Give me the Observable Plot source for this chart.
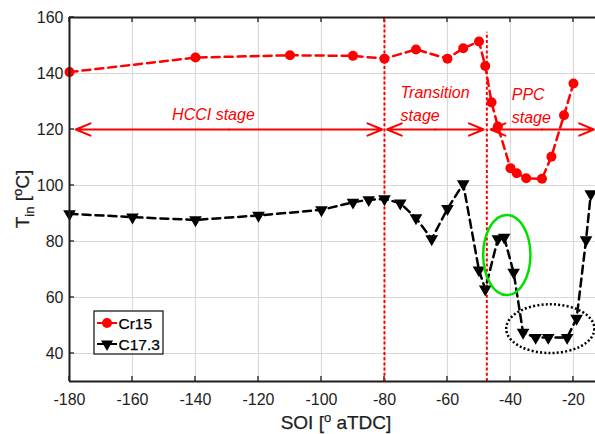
<!DOCTYPE html>
<html>
<head>
<meta charset="utf-8">
<script src="https://cdn.jsdelivr.net/npm/d3@7"></script>
<script src="https://cdn.jsdelivr.net/npm/@observablehq/plot@0.6"></script>
<style>
  body { margin: 0; background: #fff; }
  #chart svg { display: block; }
</style>
</head>
<body>
<div id="chart"></div>
<script>
// Intake temperature vs. start of injection for the two fuels
const soiCr15 = [-180, -140, -110, -90, -80, -70, -60, -55, -50, -48, -46, -44, -40, -38, -35, -30, -27, -23, -20];
const tinCr15 = [140.5, 145.7, 146.5, 146.3, 145.3, 148.6, 145.3, 149.0, 151.4, 142.7, 129.7, 121.1, 106.2, 104.4, 102.6, 102.4, 110.3, 125.1, 136.4];

const soiC173 = [-180, -160, -140, -120, -100, -90, -85, -80, -75, -70, -65, -60, -55, -50, -48, -44, -42, -39, -36, -32, -28, -22, -19, -16, -14.5];
const tinC173 = [89.9, 88.7, 87.7, 89.3, 91.3, 94.0, 94.9, 95.2, 93.7, 88.4, 80.9, 91.7, 100.6, 69.8, 63.0, 80.9, 81.5, 69.0, 47.5, 45.7, 45.7, 45.7, 52.5, 80.6, 97.0];

const seriesNames = ["Cr15", "C17.3"];
const seriesColors = ["#ff0000", "#000000"];

const xTicks = [-180, -160, -140, -120, -100, -80, -60, -40, -20];
const yTicks = [40, 60, 80, 100, 120, 140, 160];
const xDomain = [-180, -13];
const yDomain = [30, 160];

// Combustion stage boundaries, arrows and labels
const boundarySoi = [-80, -47.5];
const boundaryTop = [160, 154.7];
const stageArrowY = 120;
const stageStart = [-178, -79.2, -46.3];
const stageEnd = [-80.7, -48.5, -13.5];
const stageText = ["HCCI stage", "Transition\nstage", "PPC\nstage"];
const stageTextX = [-134.3, -74.9, -39.6];
const stageTextY = [126.2, 129.8, 129.2];
const stageTextAnchor = ["middle", "start", "start"];

// Highlighted regions (centre and half-axes in data units)
const regionCx = [-41, -27.2];
const regionCy = [75, 48.7];
const regionRx = [7.5, 14];
const regionRy = [14.3, 8.7];
const regionStroke = ["#00e000", "#000000"];
const regionDash = [null, "2,2.2"];

const cr15 = soiCr15.map((x, i) => ({x, y: tinCr15[i]}));
const c173 = soiC173.map((x, i) => ({x, y: tinC173[i]}));
const boundaries = boundarySoi.map((x, i) => ({x, top: boundaryTop[i]}));
const stages = stageStart.map((x1, i) => ({x1, x2: stageEnd[i], mid: (x1 + stageEnd[i]) / 2}));
const stageLabels = stageText.map((t, i) => ({t, x: stageTextX[i], y: stageTextY[i], anchor: stageTextAnchor[i]}));
const regions = regionCx.map((cx, i) => ({cx, cy: regionCy[i], rx: regionRx[i], ry: regionRy[i], stroke: regionStroke[i], dash: regionDash[i]}));

// Downward-pointing triangle marker
const triangleDown = {
  draw(context, size) {
    const y = -Math.sqrt(size / (Math.sqrt(3) * 3));
    context.moveTo(0, -y * 2);
    context.lineTo(-Math.sqrt(3) * y, y);
    context.lineTo(Math.sqrt(3) * y, y);
    context.closePath();
  }
};

const font = "'Liberation Sans', Arial, Helvetica, sans-serif";
const axisColor = "#1e1e1e";
const gridColor = "#d9d9d9";
const plainNumber = d => String(d);

// Inward tick marks on the bottom, top and left edges
function innerTicks(index, {x, y}) {
  const g = d3.create("svg:g").attr("stroke", axisColor).attr("stroke-width", 1.3);
  const yb = y(yDomain[0]), yt = y(yDomain[1]), xl = x(xDomain[0]);
  for (const t of xTicks) {
    g.append("line").attr("x1", x(t)).attr("x2", x(t)).attr("y1", yb).attr("y2", yb - 5);
    g.append("line").attr("x1", x(t)).attr("x2", x(t)).attr("y1", yt).attr("y2", yt + 5);
  }
  for (const t of yTicks) {
    g.append("line").attr("x1", xl).attr("x2", xl + 5).attr("y1", y(t)).attr("y2", y(t));
  }
  return g.node();
}

// Axis titles with super/subscripts
function axisTitles() {
  const g = d3.create("svg:g").attr("font-family", font).attr("fill", axisColor)
    .attr("stroke", axisColor).attr("stroke-width", 0.25);
  const xt = g.append("text").attr("x", 336).attr("y", 429).attr("text-anchor", "middle").attr("font-size", 19);
  xt.append("tspan").text("SOI [");
  xt.append("tspan").attr("font-size", 13).attr("dy", -7).text("o");
  xt.append("tspan").attr("dy", 7).text(" aTDC]");
  const yt = g.append("text").attr("transform", "translate(29,199) rotate(-90)").attr("text-anchor", "middle").attr("font-size", 19);
  yt.append("tspan").text("T");
  yt.append("tspan").attr("font-size", 13).attr("dy", 5).text("in");
  yt.append("tspan").attr("dy", -5).text(" [");
  yt.append("tspan").attr("font-size", 13).attr("dy", -7).text("o");
  yt.append("tspan").attr("dy", 7).text("C]");
  return g.node();
}

function regionEllipses(index, {x, y}) {
  const g = d3.create("svg:g").attr("fill", "none");
  g.selectAll("ellipse").data(regions).join("ellipse")
    .attr("cx", d => x(d.cx)).attr("cy", d => y(d.cy))
    .attr("rx", d => x(d.cx + d.rx) - x(d.cx))
    .attr("ry", d => y(d.cy - d.ry) - y(d.cy))
    .attr("stroke", d => d.stroke)
    .attr("stroke-width", 2.5)
    .attr("stroke-dasharray", d => d.dash);
  return g.node();
}

function legend() {
  const g = d3.create("svg:g").attr("font-family", font).attr("text-anchor", "start");
  g.append("rect").attr("x", 94).attr("y", 311).attr("width", 69).attr("height", 43)
    .attr("fill", "#fff").attr("stroke", axisColor).attr("stroke-width", 1.3);
  const sym = [d3.symbol(d3.symbolCircle, Math.PI * 25), d3.symbol(triangleDown, Math.PI * 4.5 * 4.5)];
  seriesNames.forEach((name, i) => {
    const yy = 323 + i * 21;
    g.append("line").attr("x1", 97).attr("x2", 117).attr("y1", yy).attr("y2", yy)
      .attr("stroke", seriesColors[i]).attr("stroke-width", 2);
    g.append("path").attr("d", sym[i]()).attr("transform", `translate(107,${yy})`).attr("fill", seriesColors[i]);
    g.append("text").attr("x", 118.5).attr("y", yy).attr("dy", "0.36em")
      .attr("font-size", 15.5).attr("fill", "#000").attr("stroke", "#000").attr("stroke-width", 0.25)
      .attr("text-anchor", "start").text(name);
  });
  return g.node();
}

const labelStyle = {fill: "#ff0000", fontStyle: "italic", fontSize: 16, lineHeight: 1.45};

const chart = Plot.plot({
  width: 595,
  height: 434,
  marginLeft: 69,
  marginRight: 0,
  marginTop: 17,
  marginBottom: 53,
  style: {fontFamily: font, fontSize: "16px", background: "#fff", overflow: "hidden"},
  x: {domain: xDomain},
  y: {domain: yDomain},
  marks: [
    Plot.gridX(xTicks, {stroke: gridColor, strokeOpacity: 1, strokeWidth: 1.2}),
    Plot.gridY(yTicks, {stroke: gridColor, strokeOpacity: 1, strokeWidth: 1.2}),
    // tick labels
    Plot.axisX(xTicks, {anchor: "bottom", tickSize: 0, tickPadding: 12, tickFormat: plainNumber, fontSize: 16, fill: axisColor, stroke: axisColor, strokeWidth: 0.25, label: null}),
    Plot.axisY(yTicks, {anchor: "left", tickSize: 0, tickPadding: 6, tickFormat: plainNumber, fontSize: 16, fill: axisColor, stroke: axisColor, strokeWidth: 0.25, label: null}),
    innerTicks,
    // stage boundaries
    Plot.ruleX(boundaries, {x: "x", y1: yDomain[0], y2: "top", stroke: "#ff0000", strokeWidth: 2, strokeDasharray: "3,2.2"}),
    // stage arrows (double-headed)
    Plot.arrow(stages, {x1: "mid", x2: "x1", y1: stageArrowY, y2: stageArrowY, stroke: "#ff0000", strokeWidth: 2, headLength: 12, headAngle: 45}),
    Plot.arrow(stages, {x1: "mid", x2: "x2", y1: stageArrowY, y2: stageArrowY, stroke: "#ff0000", strokeWidth: 2, headLength: 12, headAngle: 45}),
    Plot.text(stageLabels, {filter: d => d.anchor === "middle", x: "x", y: "y", text: "t", textAnchor: "middle", ...labelStyle}),
    Plot.text(stageLabels, {filter: d => d.anchor === "start", x: "x", y: "y", text: "t", textAnchor: "start", ...labelStyle}),
    // data series
    Plot.line(cr15, {x: "x", y: "y", stroke: seriesColors[0], strokeWidth: 2.5, strokeDasharray: "8,5"}),
    Plot.dot(cr15, {x: "x", y: "y", r: 5, fill: seriesColors[0], stroke: null, symbol: "circle"}),
    Plot.line(c173, {x: "x", y: "y", stroke: seriesColors[1], strokeWidth: 2.5, strokeDasharray: "8,5"}),
    Plot.dot(c173, {x: "x", y: "y", r: 4.7, fill: seriesColors[1], stroke: null, symbol: triangleDown}),
    // axes box (left, bottom, top)
    Plot.ruleX([xDomain[0]], {stroke: axisColor, strokeWidth: 2}),
    Plot.ruleY(yDomain, {stroke: axisColor, strokeWidth: 2}),
    regionEllipses,
    legend,
    axisTitles
  ]
});

document.getElementById("chart").appendChild(chart);
</script>
</body>
</html>
